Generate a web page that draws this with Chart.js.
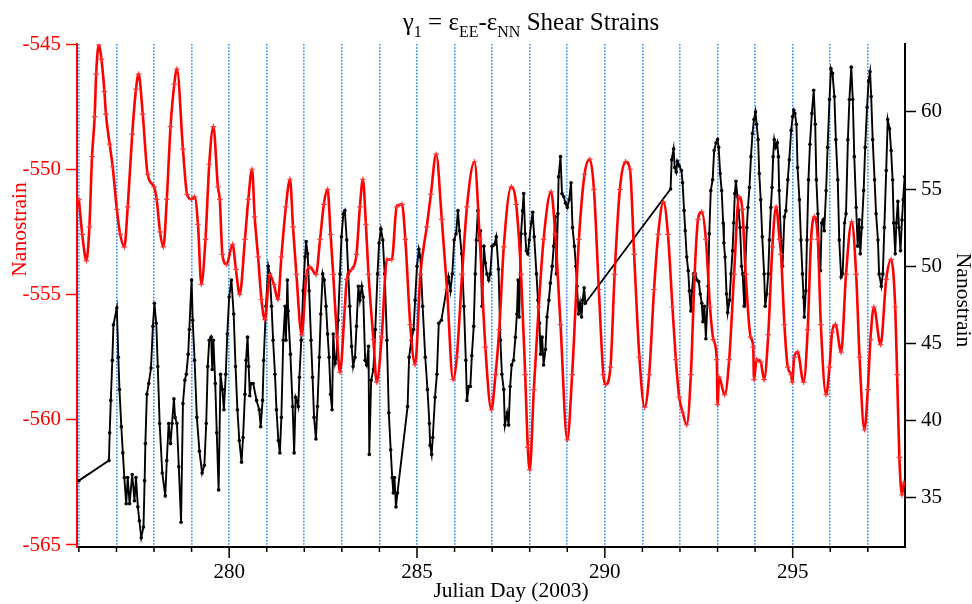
<!DOCTYPE html>
<html>
<head>
<meta charset="utf-8">
<script src="https://cdn.jsdelivr.net/npm/chart.js@4.4.1/dist/chart.umd.min.js"></script>
<style>
  html, body { margin: 0; padding: 0; background: #fff; }
  #wrap { width: 972px; height: 604px; }
</style>
</head>
<body>
<div id="wrap"><canvas id="chart" width="972" height="604"></canvas></div>
<script>
// [julian day, nanostrain]
const eeMinusNN = [ // red, left axis
  [276.00,-551.2],[276.09,-552.6],[276.20,-553.65],[276.28,-552.3],[276.35,-549.5],[276.42,-547.9],[276.46,-546.2],
  [276.53,-545.04],[276.60,-545.6],[276.68,-546.9],[276.72,-547.8],[276.82,-549.0],[276.90,-549.9],[277.01,-551.6],
  [277.10,-552.6],[277.21,-553.1],[277.30,-551.5],[277.42,-548.6],[277.52,-546.8],[277.59,-546.2],[277.70,-547.8],
  [277.83,-550.2],[278.00,-550.7],[278.07,-551.2],[278.16,-552.5],[278.25,-553.1],[278.34,-551.2],[278.44,-548.3],
  [278.54,-546.6],[278.61,-546.0],[278.77,-549.2],[278.88,-551.0],[279.00,-551.2],[279.08,-551.1],[279.17,-552.2],
  [279.26,-554.6],[279.37,-552.8],[279.47,-549.8],[279.58,-548.3],[279.70,-550.7],[279.75,-551.2],[279.82,-553.4],
  [279.93,-553.8],[280.09,-553.0],[280.18,-554.0],[280.28,-555.0],[280.42,-552.8],[280.51,-551.2],[280.61,-550.0],
  [280.68,-551.9],[280.77,-553.5],[280.86,-555.2],[280.95,-556.0],[281.08,-554.2],[281.19,-554.6],[281.30,-555.2],
  [281.39,-553.5],[281.51,-551.5],[281.62,-550.4],[281.70,-552.3],[281.79,-554.2],[281.93,-556.6],[282.06,-554.2],
  [282.15,-553.9],[282.31,-554.2],[282.42,-552.8],[282.52,-551.4],[282.62,-550.8],[282.70,-552.6],[282.77,-554.2],
  [282.87,-556.7],[282.95,-558.1],[283.08,-555.5],[283.13,-554.4],[283.26,-554.0],[283.39,-553.4],[283.48,-551.5],
  [283.56,-550.4],[283.64,-552.2],[283.71,-554.2],[283.84,-556.8],[283.93,-558.5],[284.06,-556.7],[284.20,-553.6],
  [284.33,-553.6],[284.46,-551.5],[284.60,-551.4],[284.69,-552.8],[284.82,-556.2],[284.95,-557.8],[285.09,-554.2],
  [285.26,-552.3],[285.37,-551.0],[285.51,-549.4],[285.66,-552.0],[285.80,-554.8],[285.96,-558.4],[286.06,-557.5],
  [286.20,-554.2],[286.33,-551.5],[286.53,-549.7],[286.67,-552.8],[286.82,-557.1],[286.98,-559.6],[287.09,-558.2],
  [287.19,-556.4],[287.31,-553.1],[287.51,-550.7],[287.64,-551.4],[287.77,-554.2],[287.88,-558.2],[287.95,-561.1],
  [288.00,-562.0],[288.11,-558.8],[288.24,-555.5],[288.37,-552.8],[288.57,-550.9],[288.68,-552.6],[288.82,-556.2],
  [289.00,-560.8],[289.13,-558.2],[289.31,-552.8],[289.46,-550.2],[289.60,-549.6],[289.71,-550.8],[289.84,-554.8],
  [289.96,-558.2],[290.02,-558.6],[290.15,-557.9],[290.26,-554.2],[290.40,-550.8],[290.55,-549.7],[290.67,-550.0],
  [290.78,-553.4],[290.92,-557.5],[291.06,-559.5],[291.18,-558.2],[291.31,-554.8],[291.42,-552.6],[291.56,-551.3],
  [291.68,-552.6],[291.80,-555.5],[291.89,-557.6],[291.98,-559.1],[292.07,-559.7],[292.18,-560.2],[292.29,-558.2],
  [292.39,-554.2],[292.48,-552.0],[292.58,-551.7],[292.69,-552.8],[292.80,-555.5],[292.89,-556.8],[292.98,-557.6],
  [293.00,-559.4],[293.04,-558.3],[293.19,-559.0],[293.31,-557.6],[293.44,-554.2],[293.57,-551.1],[293.66,-551.6],
  [293.75,-554.2],[293.88,-556.7],[293.95,-557.1],[293.97,-558.4],[294.04,-557.6],[294.15,-557.7],[294.24,-558.4],
  [294.35,-556.6],[294.46,-553.1],[294.56,-551.5],[294.65,-552.8],[294.69,-553.4],[294.78,-556.2],[294.87,-557.9],
  [294.96,-558.2],[294.99,-558.5],[295.04,-557.5],[295.13,-557.3],[295.29,-558.5],[295.40,-556.4],[295.49,-552.8],
  [295.58,-551.9],[295.67,-552.8],[295.75,-556.2],[295.89,-559.0],[295.98,-557.9],[296.05,-556.5],[296.14,-556.2],
  [296.29,-557.3],[296.42,-554.2],[296.57,-552.1],[296.69,-554.2],[296.78,-557.5],[296.91,-560.4],[297.00,-558.8],
  [297.07,-556.8],[297.16,-555.5],[297.34,-557.0],[297.49,-554.4],[297.62,-553.6],[297.73,-555.5],[297.78,-558.2],
  [297.84,-561.5],[297.91,-563.0],[297.96,-562.5]
];

const otherStrain = [ // black, right axis
  [276.00,36.1],[276.80,37.4],[276.82,39.2],[276.85,41.3],[276.89,43.9],[276.92,46.2],[277.01,47.3],[277.05,44.1],
  [277.08,42.0],[277.13,39.6],[277.17,37.9],[277.21,36.3],[277.26,34.6],[277.30,36.3],[277.35,34.6],[277.42,36.5],
  [277.48,34.8],[277.52,36.3],[277.57,34.4],[277.61,33.5],[277.66,32.4],[277.72,33.1],[277.75,36.1],[277.77,38.5],
  [277.81,41.7],[277.86,42.4],[277.92,43.4],[277.97,46.1],[278.01,47.6],[278.06,46.3],[278.10,43.5],[278.15,39.8],
  [278.22,36.6],[278.30,35.1],[278.34,37.4],[278.39,39.8],[278.44,38.5],[278.48,39.8],[278.53,41.4],[278.56,40.2],
  [278.61,39.8],[278.66,37.0],[278.72,33.4],[278.77,41.1],[278.82,42.6],[278.86,43.0],[278.91,44.3],[278.94,45.9],
  [279.00,49.1],[279.03,46.5],[279.08,43.9],[279.14,40.2],[279.21,38.0],[279.28,36.6],[279.34,37.1],[279.39,39.8],
  [279.43,43.5],[279.47,45.2],[279.52,45.4],[279.55,43.3],[279.58,45.2],[279.63,42.4],[279.67,39.2],[279.72,35.5],
  [279.77,43.0],[279.82,42.0],[279.86,40.7],[279.91,43.0],[279.95,45.6],[280.00,48.0],[280.06,49.1],[280.12,46.9],
  [280.17,43.5],[280.22,40.7],[280.27,38.7],[280.33,37.3],[280.37,38.9],[280.42,41.7],[280.45,43.9],[280.49,45.4],
  [280.52,43.5],[280.55,41.6],[280.58,42.4],[280.64,42.4],[280.73,41.3],[280.80,40.7],[280.84,39.6],[280.89,41.3],
  [280.92,43.9],[280.98,47.4],[281.04,50.0],[281.08,49.5],[281.13,47.4],[281.17,45.2],[281.22,43.0],[281.26,40.7],
  [281.31,38.7],[281.35,37.9],[281.39,40.2],[281.44,45.2],[281.49,47.4],[281.51,45.2],[281.55,49.1],[281.57,47.1],
  [281.63,44.3],[281.69,40.9],[281.73,37.9],[281.77,41.5],[281.80,41.3],[281.84,40.9],[281.87,42.8],[281.92,45.2],
  [281.97,48.4],[282.02,50.6],[282.05,51.6],[282.09,50.8],[282.13,48.4],[282.18,45.2],[282.22,42.8],[282.26,40.2],
  [282.31,38.8],[282.35,40.9],[282.40,44.1],[282.44,46.9],[282.49,49.5],[282.53,49.1],[282.58,47.4],[282.62,45.6],
  [282.66,44.1],[282.70,41.7],[282.74,40.7],[282.77,45.6],[282.82,43.7],[282.86,44.1],[282.90,46.5],[282.95,49.5],
  [282.99,51.9],[283.04,53.4],[283.08,53.6],[283.13,51.7],[283.17,49.5],[283.21,47.4],[283.26,44.8],[283.30,43.5],
  [283.35,44.1],[283.39,46.1],[283.44,48.7],[283.48,47.8],[283.53,48.7],[283.57,48.0],[283.62,43.9],[283.66,43.6],
  [283.71,44.8],[283.73,37.8],[283.78,42.6],[283.84,43.3],[283.89,45.9],[283.95,49.5],[283.99,51.5],[284.04,52.4],
  [284.09,51.7],[284.14,49.5],[284.20,45.2],[284.25,40.5],[284.30,38.1],[284.34,36.3],[284.37,35.3],[284.40,36.3],
  [284.44,34.4],[284.48,35.3],[284.75,40.9],[284.79,44.1],[284.85,45.2],[284.91,45.9],[284.95,47.8],[285.00,50.0],
  [285.05,51.1],[285.09,50.6],[285.15,47.4],[285.22,44.1],[285.28,42.0],[285.33,39.8],[285.35,38.4],[285.39,37.8],
  [285.42,38.9],[285.48,41.5],[285.53,43.0],[285.58,46.3],[285.65,46.5],[285.84,49.3],[285.89,48.4],[285.94,49.5],
  [285.99,51.7],[286.04,52.1],[286.09,53.6],[286.13,52.3],[286.19,50.8],[286.25,47.4],[286.30,43.9],[286.33,41.3],
  [286.38,42.2],[286.42,42.2],[286.46,44.2],[286.51,46.1],[286.55,49.5],[286.58,51.7],[286.62,53.6],[286.66,51.7],
  [286.69,52.3],[286.73,47.4],[286.78,51.3],[286.82,50.2],[286.86,49.5],[286.91,49.1],[286.95,49.5],[287.00,51.3],
  [287.06,51.4],[287.11,51.9],[287.17,49.8],[287.22,45.2],[287.26,43.0],[287.31,42.0],[287.34,39.7],[287.40,40.5],
  [287.44,39.7],[287.48,42.2],[287.52,43.6],[287.57,43.9],[287.62,45.4],[287.66,46.9],[287.69,49.1],[287.72,46.7],
  [287.77,52.1],[287.81,53.6],[287.84,54.7],[287.88,52.1],[287.91,51.0],[287.95,50.8],[287.99,51.7],[288.04,52.8],
  [288.08,53.5],[288.12,51.9],[288.18,49.5],[288.22,47.8],[288.26,46.3],[288.29,44.3],[288.33,45.4],[288.37,43.6],
  [288.42,44.6],[288.46,46.7],[288.51,47.8],[288.55,48.9],[288.60,50.0],[288.64,51.3],[288.68,53.2],[288.71,49.5],
  [288.75,53.4],[288.77,55.8],[288.82,57.1],[288.86,54.7],[288.91,54.5],[288.95,54.1],[289.00,53.8],[289.05,54.3],
  [289.10,55.4],[289.14,52.5],[289.19,51.3],[289.23,50.0],[289.26,48.7],[289.30,46.9],[289.34,47.6],[289.38,46.7],
  [289.41,47.8],[289.45,48.6],[289.48,47.6],[291.75,55.0],[291.78,56.9],[291.83,57.6],[291.86,56.4],[291.90,56.1],
  [291.93,56.8],[291.98,56.5],[292.04,56.2],[292.07,55.4],[292.11,53.6],[292.14,52.3],[292.18,50.6],[292.22,49.7],
  [292.25,48.4],[292.29,47.1],[292.32,48.4],[292.36,49.5],[292.41,49.5],[292.45,49.1],[292.50,49.0],[292.54,48.2],
  [292.58,47.6],[292.61,46.4],[292.65,47.4],[292.69,45.3],[292.75,48.7],[292.78,52.1],[292.82,54.9],[292.87,55.6],
  [292.91,57.5],[292.96,58.0],[293.00,58.2],[293.03,57.7],[293.07,56.0],[293.11,54.9],[293.15,52.8],[293.17,51.5],
  [293.20,50.6],[293.24,48.2],[293.27,47.0],[293.32,47.8],[293.36,49.5],[293.40,51.0],[293.43,52.8],[293.46,54.7],
  [293.49,55.5],[293.53,54.5],[293.56,53.6],[293.60,52.5],[293.64,50.0],[293.67,49.5],[293.71,47.4],[293.73,49.5],
  [293.78,52.5],[293.81,53.8],[293.85,55.1],[293.89,57.1],[293.93,58.6],[293.97,59.5],[294.01,60.0],[294.04,59.2],
  [294.08,58.2],[294.11,56.0],[294.15,54.3],[294.19,51.9],[294.24,49.5],[294.27,47.4],[294.31,48.2],[294.35,49.5],
  [294.38,51.7],[294.42,53.8],[294.45,55.1],[294.48,57.1],[294.51,58.2],[294.55,57.7],[294.59,58.0],[294.62,57.1],
  [294.64,54.9],[294.69,51.7],[294.73,50.0],[294.78,53.2],[294.82,53.6],[294.87,55.6],[294.91,56.9],[294.96,58.8],
  [295.00,59.7],[295.03,60.1],[295.06,59.9],[295.10,59.2],[295.13,56.4],[295.18,54.3],[295.22,51.7],[295.26,49.5],
  [295.29,48.0],[295.31,46.7],[295.35,48.4],[295.38,51.7],[295.42,55.6],[295.46,57.9],[295.51,59.9],[295.56,61.4],
  [295.60,59.2],[295.63,55.6],[295.67,53.4],[295.70,50.6],[295.74,49.7],[295.77,52.8],[295.81,53.0],[295.84,52.3],
  [295.89,54.9],[295.93,57.7],[295.98,60.8],[296.02,62.8],[296.06,62.5],[296.11,61.0],[296.15,58.2],[296.20,55.6],
  [296.24,51.7],[296.29,49.3],[296.33,49.5],[296.38,52.8],[296.42,53.4],[296.47,58.2],[296.51,60.8],[296.56,62.9],
  [296.60,60.8],[296.64,57.1],[296.69,53.8],[296.73,51.3],[296.77,53.0],[296.80,50.8],[296.84,52.5],[296.89,54.9],
  [296.93,57.7],[296.98,60.3],[297.02,62.0],[297.06,62.6],[297.09,61.0],[297.13,58.2],[297.18,55.6],[297.22,53.4],
  [297.27,51.7],[297.30,49.5],[297.36,48.7],[297.40,49.5],[297.44,52.5],[297.49,56.2],[297.53,59.5],[297.58,58.9],
  [297.62,57.5],[297.66,55.6],[297.69,52.8],[297.73,50.8],[297.76,52.8],[297.80,54.2],[297.83,52.5],[297.87,51.0],
  [297.91,53.0],[297.94,54.3],[297.98,55.8]
];

const labelledDays = [280, 285, 290, 295];
const dayRange = [275.95, 297.99];
const leftRange = [-565.08, -545];
const rightRange = [31.8, 64.4];

const FONT = '"Liberation Serif", "Times New Roman", serif';
const RED = '#ff0000';
const GRID_BLUE = 'rgba(40,135,255,0.95)';

// Title with subscripts, x tick marks (long on labelled days), axis titles
const decor = {
  id: 'decor',
  afterDraw(chart) {
    const { ctx, chartArea } = chart;
    const x = chart.scales.x;
    ctx.save();

    ctx.strokeStyle = '#000';
    ctx.lineWidth = 1.5;
    x.ticks.forEach(t => {
      const px = x.getPixelForValue(t.value);
      const len = labelledDays.includes(t.value) ? 11 : 5;
      ctx.beginPath();
      ctx.moveTo(px, chartArea.bottom);
      ctx.lineTo(px, chartArea.bottom + len);
      ctx.stroke();
    });

    const parts = [
      ['γ', false], ['1', true], [' = ε', false], ['EE', true],
      ['-ε', false], ['NN', true], [' Shear Strains', false],
    ];
    const big = '25px ' + FONT, small = '16px ' + FONT;
    let total = 0;
    parts.forEach(([t, sub]) => { ctx.font = sub ? small : big; total += ctx.measureText(t).width; });
    let cx = 531 - total / 2;
    ctx.fillStyle = '#000';
    ctx.textAlign = 'left';
    ctx.textBaseline = 'alphabetic';
    parts.forEach(([t, sub]) => {
      ctx.font = sub ? small : big;
      ctx.fillText(t, cx, sub ? 37 : 30);
      cx += ctx.measureText(t).width;
    });

    ctx.font = '21.5px ' + FONT;
    ctx.textAlign = 'center';
    ctx.textBaseline = 'middle';
    ctx.fillText('Julian Day (2003)', 511, 591);

    ctx.save();
    ctx.translate(20, 229.5);
    ctx.rotate(-Math.PI / 2);
    ctx.fillStyle = RED;
    ctx.fillText('Nanostrain', 0, 0);
    ctx.restore();

    ctx.save();
    ctx.translate(963, 300);
    ctx.rotate(Math.PI / 2);
    ctx.fillText('Nanostrain', 0, 0);
    ctx.restore();

    ctx.restore();
  }
};

new Chart(document.getElementById('chart'), {
  type: 'line',
  data: {
    datasets: [
      {
        label: 'EE-NN',
        data: eeMinusNN.map(([d, v]) => ({ x: d, y: v })),
        yAxisID: 'yLeft',
        borderColor: RED,
        borderWidth: 2.6,
        pointStyle: 'cross',
        pointRadius: 2.8,
        pointBorderWidth: 1.2,
        pointBorderColor: 'rgba(255,50,50,0.9)',
        cubicInterpolationMode: 'monotone',
      },
      {
        label: 'black',
        data: otherStrain.map(([d, v]) => ({ x: d, y: v })),
        yAxisID: 'yRight',
        borderColor: '#000',
        borderWidth: 1.9,
        pointStyle: 'circle',
        pointRadius: 1.8,
        pointBorderWidth: 0,
        pointBackgroundColor: '#000',
        tension: 0,
      },
    ],
  },
  options: {
    responsive: false,
    animation: false,
    layout: { padding: { top: 44, left: 0, right: 0, bottom: 0 } },
    plugins: { legend: { display: false }, tooltip: { enabled: false } },
    scales: {
      x: {
        type: 'linear',
        min: dayRange[0], max: dayRange[1],
        afterFit: s => { s.height = 57; },
        ticks: {
          stepSize: 1, includeBounds: false, autoSkip: false, maxRotation: 0,
          padding: 13, color: '#000', font: { family: FONT, size: 21 },
          callback: v => labelledDays.includes(v) ? String(v) : '',
        },
        grid: { color: GRID_BLUE, lineWidth: 1.6, drawTicks: false, drawOnChartArea: true },
        border: { color: '#000', width: 2, dash: [1.6, 1.6] },
      },
      yLeft: {
        type: 'linear', position: 'left',
        min: leftRange[0], max: leftRange[1],
        afterFit: s => { s.width = 77; },
        ticks: { stepSize: 5, includeBounds: false, color: RED, padding: 5, font: { family: FONT, size: 21 } },
        grid: { drawOnChartArea: false, tickLength: 11, tickColor: RED, tickWidth: 1.5 },
        border: { color: RED, width: 2 },
      },
      yRight: {
        type: 'linear', position: 'right',
        min: rightRange[0], max: rightRange[1],
        afterFit: s => { s.width = 67; },
        ticks: { stepSize: 5, includeBounds: false, color: '#000', padding: 5, font: { family: FONT, size: 21 } },
        grid: { drawOnChartArea: false, tickLength: 11, tickColor: '#000', tickWidth: 1.5 },
        border: { color: '#000', width: 2 },
      },
    },
  },
  plugins: [decor],
});
</script>
</body>
</html>
